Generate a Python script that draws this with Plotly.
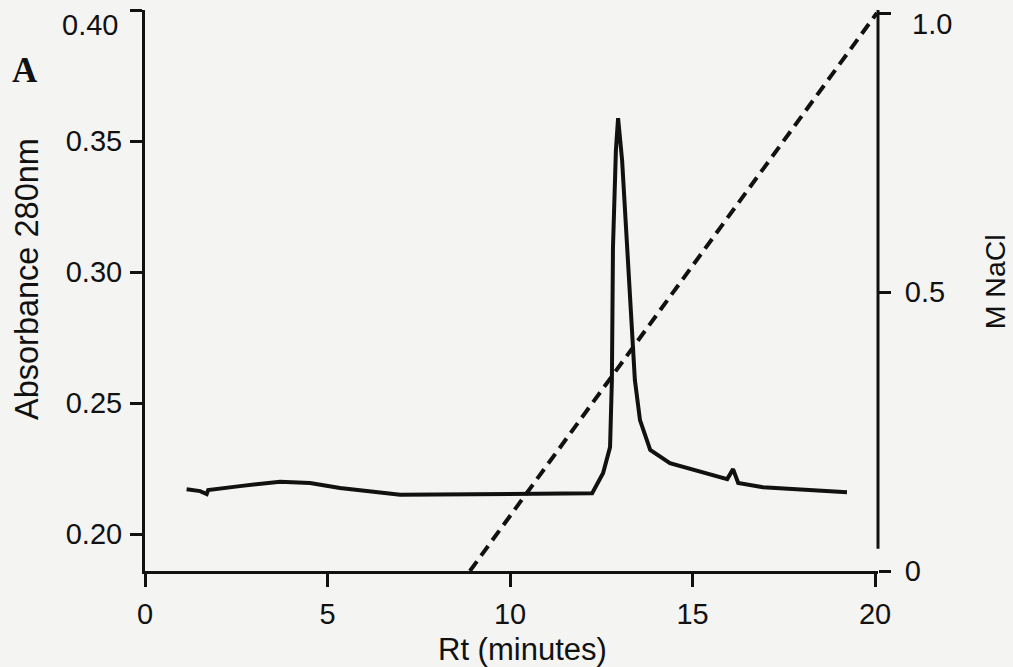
import plotly.graph_objects as go

# Chromatogram (absorbance at 280 nm) vs retention time
rt_minutes = [1.14, 1.51, 1.69, 1.73, 2.60, 3.70, 4.52, 5.34, 6.99, 9.73, 12.11, 12.25,
              12.55, 12.74, 12.79, 12.82, 12.90, 12.96, 13.07, 13.21, 13.34, 13.42, 13.56,
              13.84, 14.38, 15.21, 15.56, 15.95, 16.11, 16.25, 16.93, 17.86, 19.23]
absorbance = [0.2171, 0.2164, 0.2153, 0.2168, 0.2183, 0.2200, 0.2195, 0.2176, 0.2150, 0.2153,
              0.2156, 0.2156, 0.2233, 0.2332, 0.2588, 0.3095, 0.3466, 0.3588, 0.3427, 0.3095,
              0.2779, 0.2588, 0.2435, 0.2321, 0.2271, 0.2237, 0.2225, 0.2210, 0.2248, 0.2195,
              0.2179, 0.2172, 0.2160]

# NaCl gradient
gradient_rt = [8.9, 20.05]
gradient_nacl = [0.0, 1.0]

x_ticks = [0, 5, 10, 15, 20]
y_ticks = [0.20, 0.25, 0.30, 0.35, 0.40]
y_ticktext = ["0.20", "0.25", "0.30", "0.35", "0.40"]
y2_ticks = [0, 0.5, 1.0]
y2_ticktext = ["0", "0.5", "1.0"]

FONT = "Liberation Sans, Arial, sans-serif"
BG = "#f4f4f3"
INK = "#111111"

fig = go.Figure()
fig.add_trace(go.Scatter(x=rt_minutes, y=absorbance, mode="lines",
                         line=dict(color=INK, width=4),
                         showlegend=False, hoverinfo="skip"))
fig.add_trace(go.Scatter(x=gradient_rt, y=gradient_nacl, mode="lines", yaxis="y2",
                         line=dict(color=INK, width=4, dash="12px,7px"),
                         showlegend=False, hoverinfo="skip"))

# the top labels of both value axes sit a little below their ticks (as in the scan)
left_text = y_ticktext[:-1] + [""]
right_text = y2_ticktext[:-1] + [""]

fig.update_layout(
    width=1013, height=667,
    margin=dict(l=145, r=135, t=10, b=96, autoexpand=False),
    paper_bgcolor=BG, plot_bgcolor=BG,
    font=dict(family=FONT, color=INK, size=29),
    xaxis=dict(range=[0, 20.08], tickvals=x_ticks, showgrid=False, zeroline=False,
               showline=True, linecolor=INK, linewidth=3, automargin=False,
               ticks="outside", ticklen=13, tickwidth=3, tickcolor=INK,
               tickfont=dict(size=29, family=FONT), ticklabelstandoff=2,
               ticklabeloverflow="allow"),
    yaxis=dict(range=[0.1859, 0.4001], tickvals=y_ticks, ticktext=left_text,
               showgrid=False, zeroline=False, automargin=False,
               showline=True, linecolor=INK, linewidth=3,
               ticks="outside", ticklen=12, tickwidth=2.5, tickcolor=INK,
               tickfont=dict(size=29, family=FONT), ticklabelstandoff=2,
               ticklabeloverflow="allow"),
    yaxis2=dict(range=[0, 1.0054], tickvals=y2_ticks, ticktext=right_text,
                overlaying="y", side="right", showgrid=False, zeroline=False,
                showline=False, automargin=False,
                ticks="outside", ticklen=12, tickwidth=2.5, tickcolor=INK,
                tickfont=dict(size=29, family=FONT), ticklabelstandoff=8,
                ticklabeloverflow="allow"),
    shapes=[dict(type="line", xref="paper", yref="y2", x0=1, x1=1, y0=0.04, y1=1.0054,
                 line=dict(color=INK, width=3))],
    annotations=[
        dict(text=y_ticktext[-1], xref="paper", yref="paper", x=-0.034, y=0.973,
             xanchor="right", yanchor="middle", showarrow=False,
             font=dict(size=29, family=FONT)),
        dict(text=y2_ticktext[-1], xref="paper", yref="paper", x=1.044, y=0.975,
             xanchor="left", yanchor="middle", showarrow=False,
             font=dict(size=29, family=FONT)),
        dict(text="Absorbance 280nm", xref="paper", yref="paper", x=-0.16, y=0.52,
             xanchor="center", yanchor="middle", textangle=-90, showarrow=False,
             font=dict(size=32.5, family=FONT)),
        dict(text="M NaCl", xref="paper", yref="paper", x=1.16, y=0.515,
             xanchor="center", yanchor="middle", textangle=-90, showarrow=False,
             font=dict(size=28.5, family=FONT)),
        dict(text="Rt (minutes)", xref="paper", yref="paper", x=0.515, y=-0.14,
             xanchor="center", yanchor="middle", showarrow=False,
             font=dict(size=31, family=FONT)),
        dict(text="<b>A</b>", xref="paper", yref="paper", x=-0.164, y=0.893,
             xanchor="center", yanchor="middle", showarrow=False,
             font=dict(size=35, family="Liberation Serif, Times New Roman, serif")),
    ],
)

fig.write_html("out.html")
